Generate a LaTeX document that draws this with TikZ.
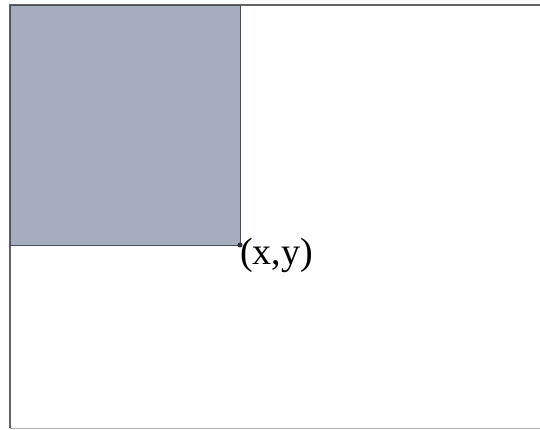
\documentclass[tikz,border=0pt]{standalone}
\usepackage{fontspec}
\setmainfont{Liberation Serif}
\definecolor{fillgray}{RGB}{166,173,190}
\definecolor{edgegray}{RGB}{70,78,95}
\definecolor{framegray}{RGB}{100,100,105}
\begin{document}
\begin{tikzpicture}[x=1pt,y=-1pt,
  frameline/.style={draw=framegray,line width=1.8pt},
  shaded/.style={fill=fillgray,draw=edgegray,line width=0.9pt},
  cornerdot/.style={circle,fill=edgegray!60!black,inner sep=0pt,minimum size=5pt},
  lbl/.style={font=\fontsize{38}{38}\selectfont,inner sep=0pt,anchor=north west}]
\useasboundingbox (0,0) rectangle (540,430);
\draw[frameline] (540,5) -- (10,5) -- (10,428);
\draw[draw=framegray!50,line width=1pt] (10,428) -- (540,428);
\coordinate (tl) at (10,5);
\coordinate (xy) at (240,245);
\draw[shaded] (tl) rectangle (xy);
\node[cornerdot] (dot) at (xy) {};
\node[lbl] (label) at (240,238) {(x,y)};
\end{tikzpicture}
\end{document}
